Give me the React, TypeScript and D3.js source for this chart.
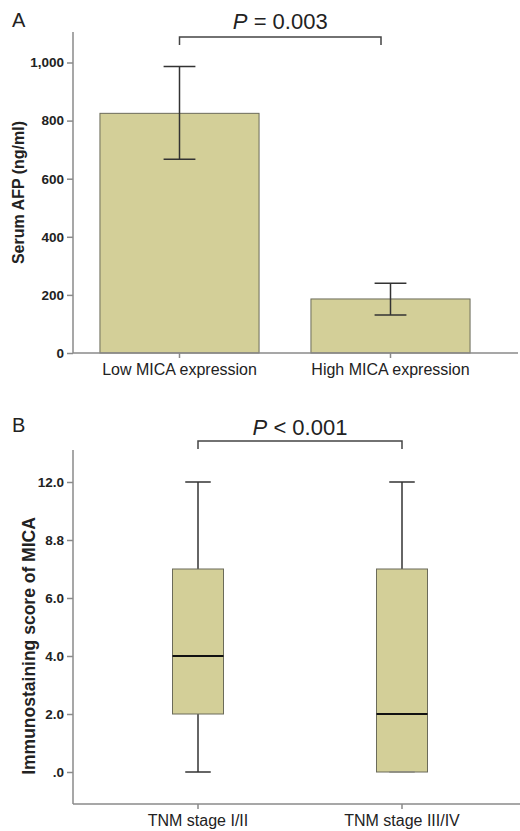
import React, { useEffect, useRef } from "react";
import * as d3 from "d3";

// Panel A: serum AFP by MICA expression (mean with error bars)
const afpGroups = ["Low MICA expression", "High MICA expression"];
const afpMean = [825, 186];
const afpUpper = [986, 240];
const afpLower = [667, 131];
const afpTicks = [0, 200, 400, 600, 800, 1000];

// Panel B: immunostaining score box plots by TNM stage
const tnmGroups = ["TNM stage I/II", "TNM stage III/IV"];
const boxMin = [0, 0];
const boxQ1 = [2.0, 0];
const boxMedian = [4.0, 2.0];
const boxQ3 = [7.4, 7.4];
const boxMax = [12.0, 12.0];
const scoreTicks = [0, 2, 4, 6, 8.8, 12];

const FONT = "'Liberation Sans', Arial, sans-serif";
const FILL = "#d3cf98";
const AXIS = "#8a8a8a";
const INK = "#333";

const App = () => {
  const ref = useRef<SVGSVGElement>(null);

  useEffect(() => {
    const svg = d3.select(ref.current);
    svg.selectAll("*").remove();
    svg.style("font-family", FONT);

    // ---------- Panel A ----------
    const xA = d3
      .scaleBand()
      .domain(afpGroups)
      .range([74, 496])
      .paddingInner(0.246)
      .paddingOuter(0.123);
    const yA = d3.scaleLinear().domain([0, 1105]).range([353, 32]);

    const gA = svg.append("g");

    gA.selectAll("rect.bar")
      .data(afpGroups)
      .join("rect")
      .attr("class", "bar")
      .attr("x", (d) => xA(d)!)
      .attr("width", xA.bandwidth())
      .attr("y", (d, i) => yA(afpMean[i]))
      .attr("height", (d, i) => yA(0) - yA(afpMean[i]))
      .attr("fill", FILL)
      .attr("stroke", "#6b6b5a")
      .attr("stroke-width", 1);

    // error bars
    const capA = xA.bandwidth() * 0.2;
    afpGroups.forEach((g, i) => {
      const cx = xA(g)! + xA.bandwidth() / 2;
      const e = gA.append("g").attr("stroke", INK).attr("stroke-width", 1.5);
      e.append("line").attr("x1", cx).attr("x2", cx).attr("y1", yA(afpUpper[i])).attr("y2", yA(afpLower[i]));
      e.append("line").attr("x1", cx - capA / 2).attr("x2", cx + capA / 2).attr("y1", yA(afpUpper[i])).attr("y2", yA(afpUpper[i]));
      e.append("line").attr("x1", cx - capA / 2).attr("x2", cx + capA / 2).attr("y1", yA(afpLower[i])).attr("y2", yA(afpLower[i]));
    });

    // axes
    const yAxisA = gA
      .append("g")
      .attr("transform", "translate(73,0)")
      .call(d3.axisLeft(yA).tickValues(afpTicks).tickFormat(d3.format(",")).tickSize(6).tickPadding(3));
    yAxisA.select(".domain").remove();
    gA.append("line").attr("x1", 73).attr("x2", 73).attr("y1", 32).attr("y2", yA(0)).attr("stroke", AXIS).attr("stroke-width", 1.5);

    const xAxisA = gA
      .append("g")
      .attr("transform", `translate(0,${yA(0)})`)
      .call(d3.axisBottom(xA).tickSize(5).tickPadding(6));
    xAxisA.select(".domain").remove();
    gA.append("line").attr("x1", 73).attr("x2", 518).attr("y1", yA(0)).attr("y2", yA(0)).attr("stroke", AXIS).attr("stroke-width", 1.5);

    // ---------- Panel B ----------
    const xB = d3
      .scaleBand()
      .domain(tnmGroups)
      .range([96, 504])
      .paddingInner(0.75)
      .paddingOuter(0.375);
    const yB = d3.scaleLinear().domain([0, 6, 8.8, 12]).range([772, 598, 540, 482]);
    const yBotB = yB(-1.1);
    const yTopB = yB(13.77);

    const gB = svg.append("g");

    const capB = xB.bandwidth() * 0.5;
    tnmGroups.forEach((g, i) => {
      const x0 = xB(g)!;
      const cx = x0 + xB.bandwidth() / 2;
      const w = gB.append("g").attr("stroke", INK).attr("stroke-width", 1.5);
      w.append("line").attr("x1", cx).attr("x2", cx).attr("y1", yB(boxMax[i])).attr("y2", yB(boxQ3[i]));
      w.append("line").attr("x1", cx).attr("x2", cx).attr("y1", yB(boxQ1[i])).attr("y2", yB(boxMin[i]));
      w.append("line").attr("x1", cx - capB / 2).attr("x2", cx + capB / 2).attr("y1", yB(boxMax[i])).attr("y2", yB(boxMax[i]));
      gB.append("rect")
        .attr("x", x0)
        .attr("width", xB.bandwidth())
        .attr("y", yB(boxQ3[i]))
        .attr("height", yB(boxQ1[i]) - yB(boxQ3[i]))
        .attr("fill", FILL)
        .attr("stroke", "#6b6b5a")
        .attr("stroke-width", 1);
      gB.append("line")
        .attr("x1", cx - capB / 2)
        .attr("x2", cx + capB / 2)
        .attr("y1", yB(boxMin[i]))
        .attr("y2", yB(boxMin[i]))
        .attr("stroke", boxMin[i] === boxQ1[i] ? "#8a8a80" : INK)
        .attr("stroke-width", 1.5);
      gB.append("line")
        .attr("x1", x0)
        .attr("x2", x0 + xB.bandwidth())
        .attr("y1", yB(boxMedian[i]))
        .attr("y2", yB(boxMedian[i]))
        .attr("stroke", "#111")
        .attr("stroke-width", 2);
    });

    const yAxisB = gB
      .append("g")
      .attr("transform", "translate(73,0)")
      .call(
        d3
          .axisLeft(yB)
          .tickValues(scoreTicks)
          .tickFormat((d: any) => (d === 0 ? ".0" : d3.format(".1f")(d)))
          .tickSize(6)
          .tickPadding(3)
      );
    yAxisB.select(".domain").remove();
    gB.append("line").attr("x1", 73).attr("x2", 73).attr("y1", yTopB).attr("y2", yBotB).attr("stroke", AXIS).attr("stroke-width", 1.5);

    const xAxisB = gB
      .append("g")
      .attr("transform", `translate(0,${yBotB})`)
      .call(d3.axisBottom(xB).tickSize(5).tickPadding(6));
    xAxisB.select(".domain").remove();
    gB.append("line").attr("x1", 73).attr("x2", 520).attr("y1", yBotB).attr("y2", yBotB).attr("stroke", AXIS).attr("stroke-width", 1.5);

    // shared axis styling
    svg.selectAll(".tick line").attr("stroke", AXIS).attr("stroke-width", 1.5);
    [yAxisA, yAxisB].forEach((ax) =>
      ax.selectAll(".tick text").attr("font-family", FONT).attr("font-size", 13.5).attr("font-weight", "bold").attr("fill", "#222")
    );
    [xAxisA, xAxisB].forEach((ax) =>
      ax.selectAll(".tick text").attr("font-family", FONT).attr("font-size", 16).attr("fill", "#222")
    );

    // axis titles
    svg.append("text")
      .attr("transform", `translate(24,${(32 + 353) / 2}) rotate(-90)`)
      .attr("text-anchor", "middle")
      .attr("font-size", 16)
      .attr("font-weight", "bold")
      .attr("fill", "#222")
      .text("Serum AFP (ng/ml)");
    svg.append("text")
      .attr("transform", `translate(35,646) rotate(-90)`)
      .attr("text-anchor", "middle")
      .attr("font-size", 17.5)
      .attr("font-weight", "bold")
      .attr("fill", "#222")
      .text("Immunostaining score of MICA");

    // panel letters
    svg.append("text").attr("x", 12).attr("y", 27).attr("font-size", 20).attr("fill", "#222").text("A");
    svg.append("text").attr("x", 12).attr("y", 432).attr("font-size", 20).attr("fill", "#222").text("B");

    // significance brackets
    const bracket = (x1: number, x2: number, y: number, label: string, ty: number) => {
      svg.append("path")
        .attr("d", `M${x1},${y + 8}V${y}H${x2}V${y + 8}`)
        .attr("fill", "none")
        .attr("stroke", "#444")
        .attr("stroke-width", 1.5);
      const t = svg.append("text")
        .attr("x", (x1 + x2) / 2)
        .attr("y", ty)
        .attr("text-anchor", "middle")
        .attr("font-size", 22)
        .attr("fill", "#222");
      t.append("tspan").attr("font-style", "italic").text("P");
      t.append("tspan").text(label);
    };
    const cA = xA(afpGroups[0])! + xA.bandwidth() / 2;
    bracket(cA, 381, 37, " = 0.003", 29);
    const cB0 = xB(tnmGroups[0])! + xB.bandwidth() / 2;
    const cB1 = xB(tnmGroups[1])! + xB.bandwidth() / 2;
    bracket(cB0, cB1, 441, " < 0.001", 435);
  }, []);

  return (
    <div>
      <svg
        ref={ref}
        width={520}
        height={831}
        style={{ position: "absolute", left: 0, top: 0, background: "#fff" }}
      ></svg>
    </div>
  );
};

export default App;
